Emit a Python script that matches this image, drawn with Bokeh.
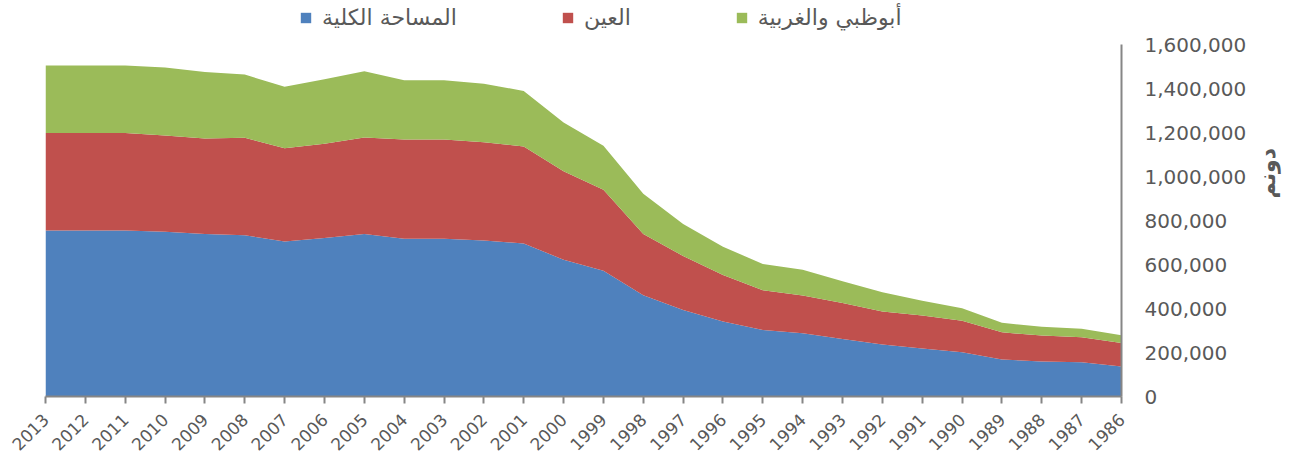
import math
from bokeh.plotting import figure
from bokeh.models import (Range1d, FixedTicker, NumeralTickFormatter, Legend,
                          LegendItem, ColumnDataSource)
from bokeh.embed import file_html
from bokeh.resources import INLINE

years = list(range(2013, 1985, -1))
total_area = [755000, 755000, 755000, 749000, 739000, 733000, 705000, 721000,
              739000, 718000, 718000, 709000, 696000, 622000, 572000, 460000,
              393000, 341000, 302000, 288000, 262000, 237000, 218000, 201000,
              168000, 159000, 156000, 137000]
al_ain = [443000, 443000, 443000, 438000, 435000, 444000, 424000, 429000,
          439000, 451000, 451000, 447000, 441000, 402000, 368000, 279000,
          246000, 212000, 181000, 171000, 163000, 150000, 150000, 143000,
          124000, 118000, 114000, 106000]
abudhabi_west = [308000, 308000, 308000, 309000, 302000, 287000, 280000, 293000,
                 301000, 269000, 269000, 267000, 253000, 222000, 201000, 183000,
                 146000, 128000, 120000, 117000, 99000, 87000, 67000, 57000,
                 43000, 40000, 38000, 36000]
series_names = ["المساحة الكلية", "العين", "أبوظبي والغربية"]
y_ticks = [0, 200000, 400000, 600000, 800000, 1000000, 1200000, 1400000, 1600000]
y_title = "دونم"

colors = ["#4F81BD", "#C0504D", "#9BBB59"]
TXT = "#595959"
AX = "#868686"
FONT = "DejaVu Sans"

Y_MAX = 1600000
# frame spans the full height above the x axis; the axis itself is bounded to 0..1.6M
Y_END = Y_MAX * 403 / 358

src = ColumnDataSource(dict(year=years, s0=total_area, s1=al_ain, s2=abudhabi_west))

p = figure(width=1295, height=459, x_range=Range1d(2013, 1986),
           y_range=Range1d(0, Y_END), y_axis_location="right",
           output_backend="svg", toolbar_location=None,
           min_border_left=45, min_border_right=171,
           min_border_top=0, min_border_bottom=56)
p.outline_line_color = None
p.xgrid.visible = False
p.ygrid.visible = False

rs = p.varea_stack(stackers=["s0", "s1", "s2"], x="year", color=colors, source=src)

# x axis
xa = p.xaxis[0]
xa.ticker = FixedTicker(ticks=years)
xa.major_label_orientation = math.pi / 4
xa.major_label_text_font = FONT
xa.major_label_text_font_size = "17px"
xa.major_label_text_color = TXT
xa.axis_line_color = AX
xa.axis_line_width = 2
xa.major_tick_line_color = AX
xa.major_tick_line_width = 2
xa.major_tick_out = 7
xa.major_tick_in = 0
xa.minor_tick_line_color = None
xa.major_label_standoff = 13

# y axis (right)
ya = p.yaxis[0]
ya.bounds = (0, Y_MAX)
ya.ticker = FixedTicker(ticks=y_ticks)
ya.formatter = NumeralTickFormatter(format="0,0")
ya.major_label_text_font = FONT
ya.major_label_text_font_size = "20px"
ya.major_label_text_color = TXT
ya.axis_line_color = AX
ya.axis_line_width = 2
ya.major_tick_line_color = None
ya.major_tick_out = 0
ya.major_tick_in = 0
ya.minor_tick_line_color = None
ya.major_label_standoff = 23
ya.axis_label = y_title
ya.axis_label_text_font = FONT
ya.axis_label_text_font_style = "bold"
ya.axis_label_text_font_size = "22px"
ya.axis_label_text_color = TXT
ya.axis_label_standoff = 18
if "axis_label_orientation" in ya.properties():
    ya.axis_label_orientation = math.pi / 2

legend = Legend(items=[LegendItem(label=series_names[i], renderers=[rs[i]]) for i in range(3)],
                location=(254, 366), orientation="horizontal",
                label_text_font=FONT, label_text_font_size="22px",
                label_text_color=TXT, glyph_width=13, glyph_height=13,
                label_standoff=10, spacing=104, padding=0, margin=0,
                border_line_color=None, background_fill_alpha=0)
p.add_layout(legend)

open("out.html", "w").write(file_html(p, INLINE))
